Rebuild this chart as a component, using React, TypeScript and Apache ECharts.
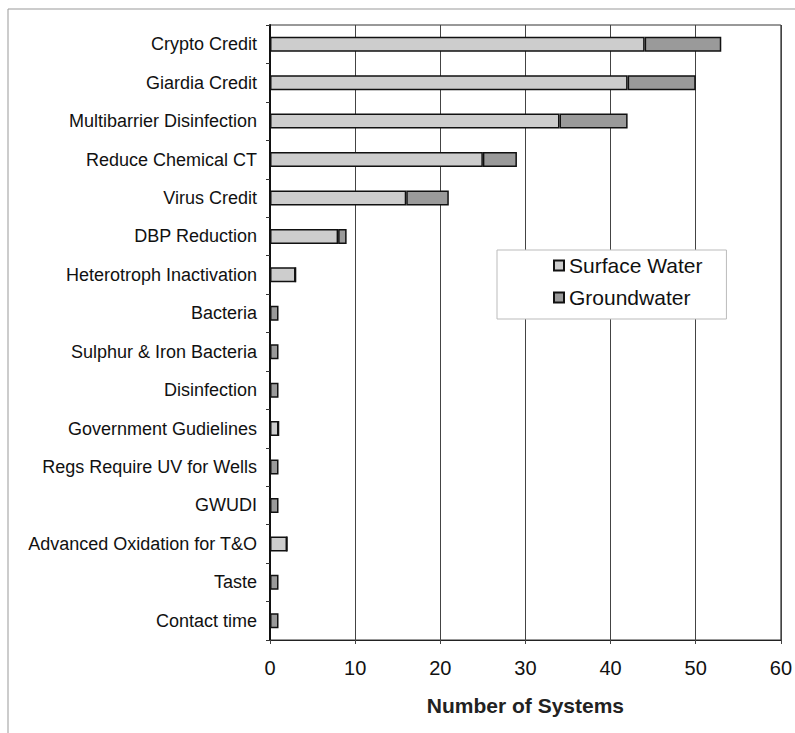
import React, { useEffect, useRef } from "react";
import * as echarts from "echarts";

const categories = [
  "Crypto Credit",
  "Giardia Credit",
  "Multibarrier Disinfection",
  "Reduce Chemical CT",
  "Virus Credit",
  "DBP Reduction",
  "Heterotroph Inactivation",
  "Bacteria",
  "Sulphur & Iron Bacteria",
  "Disinfection",
  "Government Gudielines",
  "Regs Require UV for Wells",
  "GWUDI",
  "Advanced Oxidation for T&O",
  "Taste",
  "Contact time",
];
const surfaceWater = [44, 42, 34, 25, 16, 8, 3, 0, 0, 0, 1, 0, 0, 2, 0, 0];
const groundwater = [9, 8, 8, 4, 5, 1, 0, 1, 1, 1, 0, 1, 1, 0, 1, 1];
const xTicks = [0, 10, 20, 30, 40, 50, 60];

export default function App() {
  const ref = useRef<HTMLDivElement>(null);
  useEffect(() => {
    if (!ref.current) return;
    const chart = echarts.init(ref.current, undefined, { renderer: "svg" });
    const font = "Liberation Sans, Arial, sans-serif";
    chart.setOption({
      animation: false,
      backgroundColor: "#ffffff",
      textStyle: { fontFamily: font },
      grid: { left: 270, right: 11, top: 25, bottom: 93, show: true, borderColor: "#333", borderWidth: 1 },
      legend: {
        orient: "vertical",
        left: 497,
        top: 250,
        padding: [5, 24, 11, 56],
        itemGap: 11,
        itemWidth: 10,
        itemHeight: 10,
        icon: "rect",
        backgroundColor: "#fff",
        borderColor: "#bbb",
        borderWidth: 1,
        textStyle: { fontSize: 21, color: "#111", fontFamily: font },
        data: ["Surface Water", "Groundwater"],
      },
      xAxis: {
        type: "value",
        min: 0,
        max: 60,
        interval: 10,
        name: "Number of Systems",
        nameLocation: "middle",
        nameGap: 55,
        nameTextStyle: { fontSize: 21, fontWeight: "bold", color: "#222", fontFamily: font },
        axisLine: { show: true, lineStyle: { color: "#222", width: 1 } },
        axisTick: { show: true, length: 4, lineStyle: { color: "#444" } },
        axisLabel: {
          fontSize: 20,
          color: "#111",
          margin: 18,
          formatter: (v: number) => (xTicks.includes(v) ? String(v) : ""),
        },
        splitLine: { show: true, lineStyle: { color: "#444", width: 1 } },
      },
      yAxis: {
        type: "category",
        data: categories,
        inverse: true,
        axisLine: { show: true, lineStyle: { color: "#111", width: 2 } },
        axisTick: { show: true, length: 4, lineStyle: { color: "#333" } },
        axisLabel: { fontSize: 18, color: "#111", margin: 13 },
      },
      series: [
        {
          name: "Surface Water",
          type: "bar",
          stack: "total",
          barWidth: 15,
          data: surfaceWater,
          itemStyle: { color: "#cdcdcd", borderColor: "#111", borderWidth: 1.5 },
        },
        {
          name: "Groundwater",
          type: "bar",
          stack: "total",
          barWidth: 15,
          data: groundwater,
          itemStyle: { color: "#9a9a9a", borderColor: "#111", borderWidth: 1.5 },
        },
      ],
      graphic: [
        {
          type: "rect",
          shape: { x: 8, y: 9, width: 790, height: 730 },
          style: { fill: "none", stroke: "#999", lineWidth: 1 },
          silent: true,
        },
      ],
    });
    return () => chart.dispose();
  }, []);
  return (
    <div
      ref={ref}
      style={{ position: "fixed", left: 0, top: 0, width: 795, height: 733 }}
    />
  );
}
